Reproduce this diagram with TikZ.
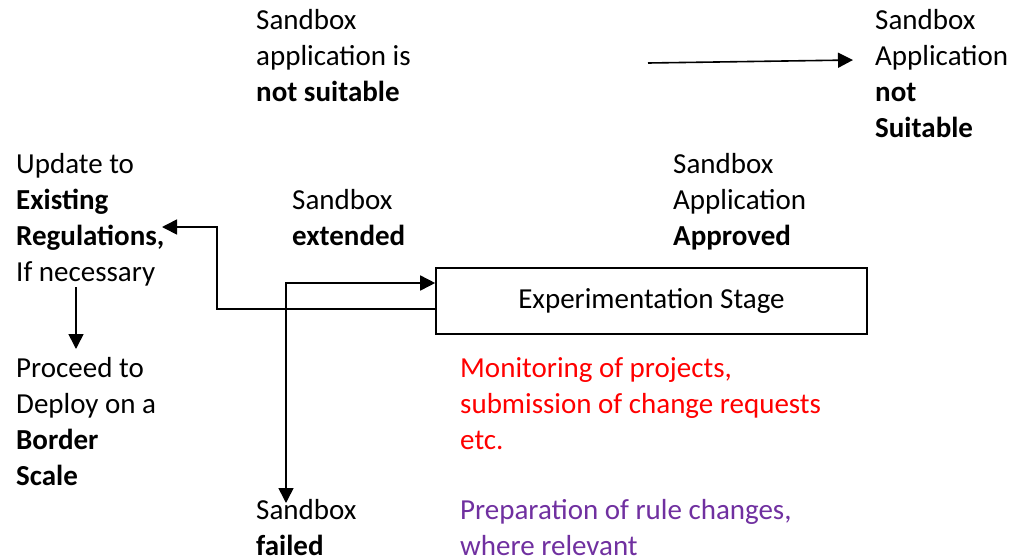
\documentclass[tikz,border=0pt]{standalone}
\usepackage{fontspec}
\setmainfont{Carlito}
\usepackage{xcolor}
\usetikzlibrary{arrows.meta, positioning}

\definecolor{notered}{HTML}{FF0000}
\definecolor{notepurple}{HTML}{7030A0}

\tikzset{
    label text/.style={anchor=north west, align=left, inner sep=0pt,
        font=\fontsize{29}{36}\selectfont},
    stage box/.style={draw, line width=1.6pt, minimum width=431pt,
        minimum height=66pt, inner sep=0pt, font=\fontsize{29}{36}\selectfont},
    flow/.style={line width=1.6pt, >={Triangle[length=15pt,width=15pt]}}
}

\begin{document}
\begin{tikzpicture}[x=1pt, y=-1pt]
    \useasboundingbox (0,0) rectangle (1021,560);

    % --- Top row: the two "not suitable" outcomes ---
    \node[label text] (notsuit) at (256,9) {Sandbox\\application is\\\textbf{not suitable}};
    \node[label text] (notsuitR) at (875,9) {Sandbox\\Application\\\textbf{not}\\\textbf{Suitable}};
    \coordinate (ns_from) at (648,63);
    \coordinate (ns_to) at (853,60);
    \draw[flow, ->] (ns_from) -- (ns_to);

    % --- Middle row ---
    \node[label text] (update) at (16,153) {Update to\\\textbf{Existing}\\\textbf{Regulations,}\\If necessary};
    \node[label text] (extended) at (292,189) {Sandbox\\\textbf{extended}};
    \node[label text] (approved) at (673,153) {Sandbox\\Application\\\textbf{Approved}};

    % --- Experimentation stage ---
    \node[stage box] (stage) at (651.5,301) {Experimentation Stage};

    % --- Bottom row ---
    \node[label text] (deploy) at (16,357) {Proceed to\\Deploy on a\\\textbf{Border}\\\textbf{Scale}};
    \node[label text, text=notered] (monitor) at (460,357) {Monitoring of projects,\\submission of change requests\\etc.};
    \node[label text] (failed) at (256,499) {Sandbox\\\textbf{failed}};
    \node[label text, text=notepurple] (prepare) at (460,499) {Preparation of rule changes,\\where relevant};

    % --- Connectors ---
    \coordinate (upd_tip) at (162,227);
    \coordinate (upd_bend) at (217,227);
    \coordinate (out_low) at (stage.west |- 0,309);
    \draw[flow, ->] (out_low) -| (upd_bend) -- (upd_tip);

    \coordinate (in_high) at (stage.west |- 0,283);
    \coordinate (fail_tip) at (286,503);
    \draw[flow, <->] (in_high) -| (fail_tip);

    \coordinate (dep_from) at (76,287);
    \coordinate (dep_tip) at (76,349);
    \draw[flow, ->] (dep_from) -- (dep_tip);
\end{tikzpicture}
\end{document}
